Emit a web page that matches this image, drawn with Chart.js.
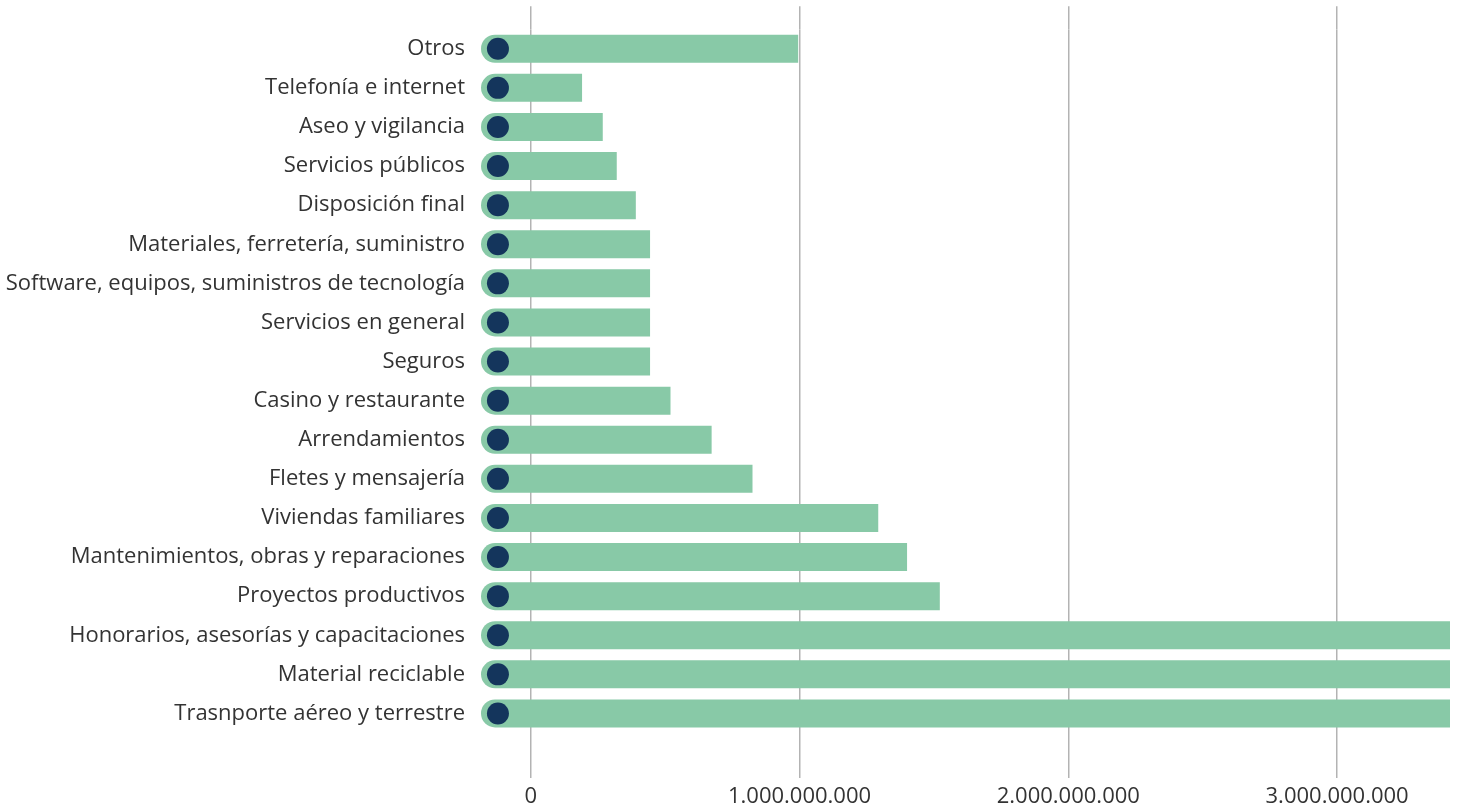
<!DOCTYPE html>
<html>
<head>
<meta charset="utf-8">
<script src="https://cdn.jsdelivr.net/npm/chart.js@4"></script>
<style>
  html, body { margin: 0; padding: 0; background: #fff; }
  #wrap { width: 1461px; height: 811px; }
</style>
</head>
<body>
<div id="wrap"><canvas id="chart"></canvas></div>
<script>
// ==================== Data ====================
const categories = [
    'Otros', 'Telefonía e internet', 'Aseo y vigilancia', 'Servicios públicos',
    'Disposición final', 'Materiales, ferretería, suministro',
    'Software, equipos, suministros de tecnología', 'Servicios en general', 'Seguros',
    'Casino y restaurante', 'Arrendamientos', 'Fletes y mensajería', 'Viviendas familiares',
    'Mantenimientos, obras y reparaciones', 'Proyectos productivos',
    'Honorarios, asesorías y capacitaciones', 'Material reciclable', 'Trasnporte aéreo y terrestre'
];
const amounts = [
    995e6, 191e6, 268e6, 320e6,
    391e6, 444e6,
    444e6, 444e6, 444e6,
    520e6, 673e6, 825e6, 1293e6,
    1400e6, 1522e6,
    3800e6, 4300e6, 4900e6
];
const barStart = -185e6;    // bars begin a little left of zero
const markerAt = -122e6;    // dark dot position
const xTicks = [0, 1e9, 2e9, 3e9];
const xMin = -185e6;
const xMax = 3420e6;

// ==================== Chart ====================
const fmt = v => Math.round(v).toString().replace(/\B(?=(\d{3})+(?!\d))/g, '.');
const font = { family: 'Open Sans', size: 22, lineHeight: 1.2 };

new Chart(document.getElementById('chart').getContext('2d'), {
    data: {
        labels: categories,
        datasets: [
            {
                type: 'line', label: 'marker', order: 0, showLine: false,
                data: categories.map(c => ({ x: markerAt, y: c })),
                pointRadius: 11, pointHoverRadius: 11, pointBorderWidth: 0,
                pointBackgroundColor: '#14355c', pointBorderColor: '#14355c'
            },
            {
                type: 'bar', label: 'valor', order: 1,
                data: amounts.map(v => [barStart, v]),
                backgroundColor: '#88c9a7', borderSkipped: false,
                borderRadius: { topLeft: 14, bottomLeft: 14, topRight: 0, bottomRight: 0 },
                categoryPercentage: 1, barPercentage: 0.716
            }
        ]
    },
    options: {
        indexAxis: 'y', responsive: true, maintainAspectRatio: false, animation: false,
        layout: { padding: { left: 5, right: 9, top: 5, bottom: 0 } },
        plugins: { legend: { display: false }, tooltip: { enabled: false } },
        scales: {
            y: {
                type: 'category', offset: true,
                grid: { display: false, drawTicks: false }, border: { display: false },
                ticks: { color: '#333', font: font, padding: 16 },
                afterFit: s => { s.width = 476; }
            },
            x: {
                type: 'linear', position: 'bottom', min: xMin, max: xMax,
                afterBuildTicks: s => { s.ticks = xTicks.map(v => ({ value: v })); },
                grid: { color: '#b3b3b3', lineWidth: 1.5, tickLength: 45 },
                border: { display: false },
                ticks: { color: '#333', font: font, padding: 6, callback: v => fmt(v) },
                afterFit: s => { s.height = 78; }
            },
            x2: {
                type: 'linear', position: 'top', min: xMin, max: xMax,
                afterBuildTicks: s => { s.ticks = xTicks.map(v => ({ value: v })); },
                grid: { color: '#b3b3b3', lineWidth: 1.5, tickLength: 23, drawOnChartArea: false },
                border: { display: false },
                ticks: { display: false }
            }
        }
    }
});
</script>
</body>
</html>
